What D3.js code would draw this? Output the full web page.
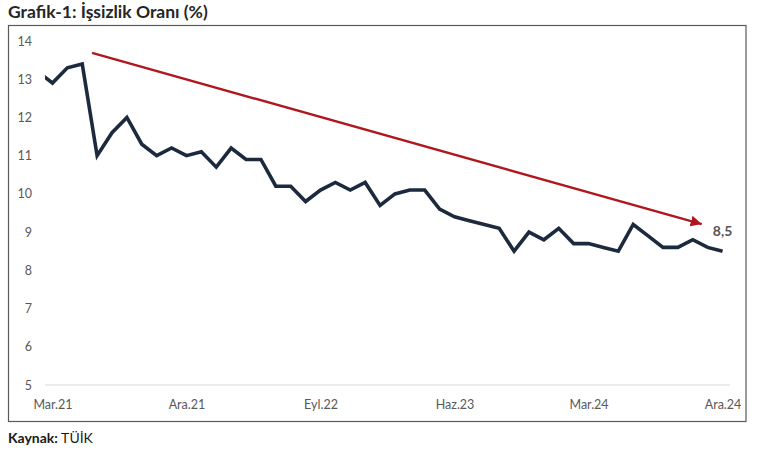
<!DOCTYPE html>
<html>
<head>
<meta charset="utf-8">
<script src="https://cdn.jsdelivr.net/npm/d3@7"></script>
<style>
  html, body { margin: 0; padding: 0; background: #fff; }
  svg { display: block; font-family: Lato, "Open Sans", sans-serif; }
</style>
</head>
<body>
<svg id="chart" width="760" height="450"></svg>
<script>
// Months (first point Şub.21 sits just outside the plot and is clipped, as in the source)
const months = ["Şub.21","Mar.21","Nis.21","May.21","Haz.21","Tem.21","Ağu.21","Eyl.21","Eki.21","Kas.21","Ara.21",
  "Oca.22","Şub.22","Mar.22","Nis.22","May.22","Haz.22","Tem.22","Ağu.22","Eyl.22","Eki.22","Kas.22","Ara.22",
  "Oca.23","Şub.23","Mar.23","Nis.23","May.23","Haz.23","Tem.23","Ağu.23","Eyl.23","Eki.23","Kas.23","Ara.23",
  "Oca.24","Şub.24","Mar.24","Nis.24","May.24","Haz.24","Tem.24","Ağu.24","Eyl.24","Eki.24","Kas.24","Ara.24"];
const unemployment = [13.2, 12.9, 13.3, 13.4, 11.0, 11.6, 12.0, 11.3, 11.0, 11.2, 11.0,
  11.1, 10.7, 11.2, 10.9, 10.9, 10.2, 10.2, 9.8, 10.1, 10.3, 10.1, 10.3,
  9.7, 10.0, 10.1, 10.1, 9.6, 9.4, 9.3, 9.2, 9.1, 8.5, 9.0, 8.8, 9.1,
  8.7, 8.7, 8.6, 8.5, 9.2, 8.9, 8.6, 8.6, 8.8, 8.6, 8.5];
const xTickLabels = ["Mar.21","Ara.21","Eyl.22","Haz.23","Mar.24","Ara.24"];
const yTicks = [5, 6, 7, 8, 9, 10, 11, 12, 13, 14];
// Trend arrow annotation, in data units: [month index, value]
const trendStart = [3.66, 13.69];
const trendEnd = [44.6, 9.21];
const lastLabel = "8,5";

const svg = d3.select("#chart");
const data = months.map((m, i) => ({ m, i, v: unemployment[i] }));

const x = d3.scaleLinear().domain([0.5, months.length - 0.5]).range([45, 730]);
const y = d3.scaleLinear().domain([5, 14]).range([385, 41]);

// Title
svg.append("text").attr("x", 8).attr("y", 18)
  .attr("font-size", 17.5).attr("font-weight", 700).attr("fill", "#262626")
  .text("Grafik-1: İşsizlik Oranı (%)");

// Frame
svg.append("rect").attr("x", 8.5).attr("y", 25.5).attr("width", 737.5).attr("height", 396)
  .attr("fill", "none").attr("stroke", "#595959").attr("stroke-width", 1.2);

// Baseline at 5
svg.append("line").attr("x1", x(0.5)).attr("x2", x(months.length - 0.5))
  .attr("y1", y(5)).attr("y2", y(5)).attr("stroke", "#d9d9d9").attr("stroke-width", 1);

// Y axis labels
const yAxis = d3.axisLeft(y).tickValues(yTicks).tickSize(0).tickPadding(0).tickFormat(d3.format("d"));
const gy = svg.append("g").attr("transform", "translate(32,0)").call(yAxis);
gy.select(".domain").remove();
gy.selectAll("text").attr("font-size", 12.5).attr("fill", "#595959").attr("font-family", "Lato, sans-serif");

// X axis labels
const tickIdx = xTickLabels.map(l => months.indexOf(l));
const xAxis = d3.axisBottom(x).tickValues(tickIdx).tickSize(0).tickPadding(0)
  .tickFormat(d => months[d]);
const gx = svg.append("g").attr("transform", "translate(0,400)").call(xAxis);
gx.select(".domain").remove();
gx.selectAll("text").attr("font-size", 12.5).attr("fill", "#595959").attr("font-family", "Lato, sans-serif");

// Clip
svg.append("clipPath").attr("id", "plotclip").append("rect")
  .attr("x", x(0.5)).attr("y", 0).attr("width", x(months.length - 0.5) - x(0.5)).attr("height", 450);

// Line
const line = d3.line().x(d => x(d.i)).y(d => y(d.v));
svg.append("path").datum(data).attr("clip-path", "url(#plotclip)")
  .attr("d", line).attr("fill", "none").attr("stroke", "#1c2a3e")
  .attr("stroke-width", 3.6).attr("stroke-linejoin", "miter").attr("stroke-linecap", "butt");

// Arrow marker
svg.append("defs").append("marker").attr("id", "arrowhead")
  .attr("viewBox", "0 0 10 10").attr("refX", 10).attr("refY", 5)
  .attr("markerWidth", 4.6).attr("markerHeight", 4.6).attr("markerUnits", "strokeWidth")
  .attr("orient", "auto")
  .append("path").attr("d", "M0,0 L10,5 L0,10 Z").attr("fill", "#b0171c");

svg.append("line")
  .attr("x1", x(trendStart[0])).attr("y1", y(trendStart[1]))
  .attr("x2", x(trendEnd[0])).attr("y2", y(trendEnd[1]))
  .attr("stroke", "#b0171c").attr("stroke-width", 2.4)
  .attr("marker-end", "url(#arrowhead)");

// Last value label
const last = data[data.length - 1];
svg.append("text").attr("x", x(last.i)).attr("y", y(last.v) - 15)
  .attr("text-anchor", "middle").attr("font-size", 14).attr("font-weight", 700)
  .attr("fill", "#555").text(lastLabel);

// Source
const src = svg.append("text").attr("x", 8).attr("y", 443).attr("font-size", 14).attr("fill", "#1a1a1a");
src.append("tspan").attr("font-weight", 700).text("Kaynak:");
src.append("tspan").text(" TÜİK");
</script>
</body>
</html>
